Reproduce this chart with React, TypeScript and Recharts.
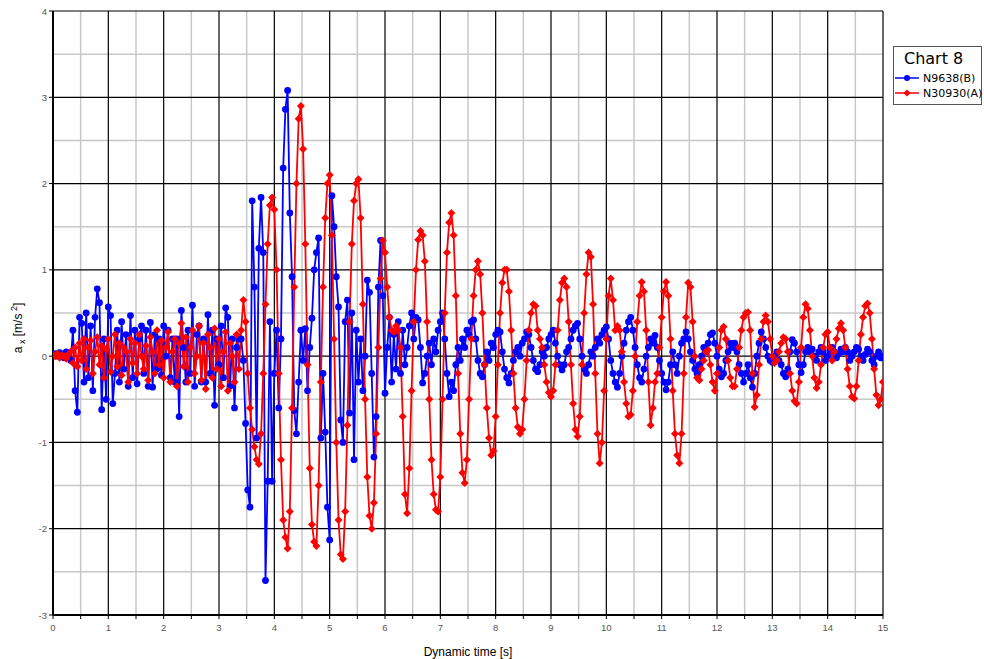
import React from 'react';
import { LineChart, Line, XAxis, YAxis, CartesianGrid } from 'recharts';

// sampling interval of the dynamic time series [s]
const DT = 0.04;

// N9638(B) accelerations
const blueEarly = [
  0.02, 0.03, 0.0, 0.04, 0.02, -0.02, 0.05, 0.0, -0.05, 0.3,
  -0.4, -0.65, 0.45, 0.38, -0.3, 0.5, -0.25, 0.35, -0.4, 0.45,
  0.78, 0.62, -0.62, 0.2, -0.5, 0.57, 0.47, -0.55, -0.2, 0.3,
  -0.3, 0.4, -0.15, 0.25, -0.35, 0.47, -0.25, 0.3, -0.32, 0.2,
  0.35, -0.2, 0.3, -0.35, 0.39, -0.36, 0.25, -0.15, 0.2, -0.22,
  0.35, 0.0, 0.3, -0.25, 0.2, -0.3, 0.2, -0.7, 0.53, 0.1,
  -0.3, 0.3, -0.2, 0.59, -0.35, 0.25, 0.35, -0.3, 0.2, -0.3,
  0.48, -0.2, 0.3, -0.57, 0.2, -0.1, 0.35, -0.25, 0.56, 0.45,
  -0.35, 0.2, -0.6, 0.1, 0.2,
];
const blueBurst = [
  0.2, -0.05, -0.78, -1.55, -1.75, 1.8, 0.8, -0.95, 1.25, 1.84,
  1.2, -2.6, -1.45, 0.4, -1.45, -0.2, 0.3, -0.6, 0.2, 2.18,
  2.86, 3.08, 1.66, 0.92, -0.63, -0.9, -0.3, 0.3, -0.05, 0.32,
  -0.4, 0.1, 0.44, 1.0, 1.2, 1.37, -0.95, -0.2, -0.88, -1.75,
  -2.13, 1.86, 1.5, 0.92, 0.57, -0.74, -1.0, 0.4, 0.65, -0.66,
  0.5, -1.2, 0.3, -0.3, 0.2, -0.4, 0.0, 0.88, 0.74, -0.2,
  -1.17, -0.7, 0.8, 1.34, 0.7, -0.43, 0.1, 0.45, -0.3, 0.25,
  -0.15, 0.4, -0.2, 0.3, -0.1,
];
const blueTail = [
  0.1, 0.35, 0.5, 0.2, 0.45, 0.42, 0.1, -0.31, -0.2, 0.0,
  0.15, -0.1, 0.2, 0.05, 0.3, 0.4, 0.5, 0.2, -0.2, -0.47,
  -0.3, -0.4, -0.1, 0.1, -0.05, 0.2, 0.1, 0.3, 0.25, 0.4,
  0.42, 0.2, -0.05, -0.2, -0.24, -0.1, 0.05, -0.05, 0.15, 0.1,
  0.25, 0.3, 0.28, 0.05, -0.15, -0.25, -0.31, -0.2, -0.05, 0.05,
  0.1, 0.0, 0.15, 0.2, 0.28, 0.25, 0.1, -0.05, -0.15, -0.18,
  -0.1, 0.05, 0.0, 0.1, 0.2, 0.25, 0.3, 0.15, 0.0, -0.1,
  -0.16, -0.1, 0.05, 0.1, 0.2, 0.3, 0.35, 0.38, 0.2, 0.0,
  -0.15, -0.2, -0.1, 0.05, 0.0, 0.1, 0.2, 0.15, 0.25, 0.3,
  0.34, 0.2, -0.05, -0.2, -0.3, -0.36, -0.2, 0.0, 0.15, 0.3,
  0.4, 0.45, 0.3, 0.1, -0.1, -0.25, -0.3, -0.15, 0.0, 0.1,
  0.2, 0.15, 0.24, 0.1, -0.05, -0.2, -0.3, -0.39, -0.3, -0.1,
  0.05, -0.1, -0.2, 0.0, 0.15, 0.2, 0.28, 0.2, 0.05, -0.05,
  -0.15, -0.2, -0.1, 0.0, 0.1, 0.05, 0.15, 0.25, 0.27, 0.15,
  0.0, -0.15, -0.24, -0.2, -0.05, 0.05, 0.15, 0.1, 0.15, 0.05,
  -0.1, -0.2, -0.3, -0.2, -0.1, -0.25, -0.36, -0.2, 0.0, 0.15,
  0.28, 0.2, 0.1, 0.0, -0.05, -0.07, 0.0, 0.05, -0.05, -0.1,
  -0.2, -0.24, -0.15, 0.05, 0.19, 0.15, 0.05, -0.1, -0.19, -0.1,
  0.05, 0.1, 0.05, 0.08, 0.0, -0.05, 0.05, 0.1, 0.05, -0.05,
  0.0, 0.08, 0.1, 0.05, -0.02, 0.03, 0.08, 0.05, 0.1, 0.05,
  -0.05, 0.0, 0.05, 0.1, 0.08, 0.0, -0.05, 0.02, 0.08, 0.05,
  -0.05, -0.1, 0.0, 0.05, -0.02, 0.0,
];

// N30930(A) accelerations
const redEarly = [
  0.02, 0.0, 0.03, -0.02, 0.01, 0.0, -0.03, 0.02, 0.05, -0.08,
  0.1, -0.12, 0.15, -0.05, 0.2, -0.15, 0.1, 0.18, -0.2, 0.05,
  0.22, -0.1, 0.12, -0.25, 0.08, 0.2, -0.18, 0.0, 0.25, -0.12,
  0.15, -0.22, 0.1, 0.05, -0.3, 0.2, -0.08, 0.15, -0.2, 0.25,
  0.0, -0.15, 0.12, -0.28, 0.22, 0.05, -0.2, 0.3, -0.1, 0.18,
  -0.25, 0.1, 0.28, -0.3, 0.05, 0.2, -0.35, 0.15, 0.38, -0.12,
  0.22, -0.3, 0.1, 0.3, -0.2, 0.0, 0.35, -0.28, 0.15, -0.38,
  0.25, 0.1, -0.25, 0.32, -0.15, 0.2, -0.35, 0.05, 0.28, -0.4,
  0.15, 0.0, -0.3, 0.25, -0.15,
];
const redMain = [
  0.3, 0.65, 0.4, -0.2, -0.6, -0.85, -1.05, -1.2, -1.25, -0.9,
  -0.2, 0.6, 1.3, 1.75, 1.84, 1.7, 1.0, -0.2, -1.2, -1.9,
  -2.1, -2.23, -1.8, -0.6, 0.8, 2.0, 2.75, 2.9, 2.4, 1.3,
  -0.1, -1.3, -1.95, -2.15, -2.2, -1.5, -0.3, 0.8, 1.6, 2.0,
  2.1, 1.4, 0.2, -1.0, -1.9, -2.3, -2.35, -1.8, -0.8, 0.4,
  1.3, 1.8, 2.0, 2.05, 1.6, 0.6, -0.5, -1.4, -1.85, -2.0,
  -1.7, -0.9, 0.1, 0.9, 1.34, 1.2, 0.8, 0.45, 0.3, 0.28,
  0.35, 0.3, 0.1, -0.7, -1.6, -1.82, -1.3, -0.4, 0.4, 1.0,
  1.35, 1.45, 1.4, 1.1, 0.4, -0.5, -1.2, -1.6, -1.78, -1.8,
  -1.4, -0.5, 0.5, 1.2, 1.55, 1.66, 1.4, 0.7, -0.2, -0.9,
  -1.35, -1.47, -1.2, -0.5, 0.2, 0.7, 1.0, 1.1, 0.95, 0.5,
  -0.1, -0.6, -0.95, -1.15, -1.1, -0.7, -0.1, 0.5, 0.85, 1.0,
  1.0, 0.75, 0.3, -0.2, -0.6, -0.82, -0.9, -0.85, -0.5, -0.05,
  0.3, 0.5, 0.6, 0.58, 0.3, 0.2, 0.1, -0.1, -0.3, -0.42,
  -0.47, -0.4, -0.1, 0.3, 0.65, 0.85, 0.9, 0.8, 0.4, -0.1,
  -0.55, -0.85, -0.93, -0.7, -0.1, 0.5, 0.95, 1.2, 1.15, 0.6,
  -0.2, -0.9, -1.24, -1.0, -0.4, 0.2, 0.7, 0.9, 0.65, 0.3,
  0.35, 0.3, 0.05, -0.3, -0.55, -0.7, -0.68, -0.4, 0.0, 0.4,
  0.7, 0.86, 0.75, 0.3, -0.3, -0.8, -0.6, -0.3, -0.2, 0.1,
  0.45, 0.75, 0.86, 0.7, 0.2, -0.4, -0.9, -1.15, -1.24, -0.9,
  -0.2, 0.45, 0.85, 0.8, 0.4, 0.0, -0.25, -0.28, -0.15, -0.05,
  0.05, 0.07, -0.1, -0.3, -0.4, -0.2, 0.1, 0.3, 0.34, 0.2,
  -0.05, -0.25, -0.35, -0.35, -0.15, 0.1, 0.3, 0.45, 0.5, 0.51,
  0.3, -0.2, -0.59, -0.45, -0.1, 0.2, 0.4, 0.47, 0.4, 0.2,
  0.0, -0.08, -0.05, 0.05, 0.15, 0.22, 0.2, 0.05, -0.2, -0.4,
  -0.52, -0.55, -0.3, 0.1, 0.45, 0.6, 0.55, 0.3, 0.0, -0.25,
  -0.37, -0.3, -0.1, 0.1, 0.25, 0.28, 0.1, -0.05, 0.05, 0.2,
  0.32, 0.38, 0.3, 0.1, -0.15, -0.35, -0.47, -0.49, -0.35, -0.05,
  0.25, 0.45, 0.58, 0.61, 0.5, 0.2, -0.15, -0.45, -0.57, -0.5,
  -0.3,
];

const xTicks = [0, 0.5, 1, 1.5, 2, 2.5, 3, 3.5, 4, 4.5, 5, 5.5, 6, 6.5, 7, 7.5, 8, 8.5, 9, 9.5, 10, 10.5, 11, 11.5, 12, 12.5, 13, 13.5, 14, 14.5, 15];
const xMajor = [0, 1, 2, 3, 4, 5, 6, 7, 8, 9, 10, 11, 12, 13, 14, 15];
const xMinor = [0.5, 1.5, 2.5, 3.5, 4.5, 5.5, 6.5, 7.5, 8.5, 9.5, 10.5, 11.5, 12.5, 13.5, 14.5];
const yTicks = [-3, -2, -1, 0, 1, 2, 3, 4];
const yMinor = [-2.5, -1.5, -0.5, 0.5, 1.5, 2.5, 3.5];

const seriesNames = ['N9638(B)', 'N30930(A)'];
const chartTitle = 'Chart 8';

const toPoints = (vals: number[]) => vals.map((v, i) => ({ t: Math.round(i * DT * 100) / 100, v }));
const blueData = toPoints([...blueEarly, ...blueBurst, ...blueTail]);
const redData = toPoints([...redEarly, ...redMain]);

const BLUE = '#0000ff';
const RED = '#ff0000';
const FONT = '"Liberation Sans", Arial, sans-serif';

const BlueDot = (p: any) => {
  if (p.cx == null || p.cy == null) return <g key={`b${p.index}`} />;
  return <circle key={`b${p.index}`} cx={p.cx} cy={p.cy} r={3.4} fill={BLUE} stroke="none" />;
};
const RedDot = (p: any) => {
  if (p.cx == null || p.cy == null) return <g key={`r${p.index}`} />;
  const s = 4;
  return (
    <polygon
      key={`r${p.index}`}
      points={`${p.cx},${p.cy - s} ${p.cx + s},${p.cy} ${p.cx},${p.cy + s} ${p.cx - s},${p.cy}`}
      fill={RED}
      stroke="none"
    />
  );
};

const XTick = (p: any) => {
  const v = p.payload.value;
  if (Math.abs(v - Math.round(v)) > 1e-6) return <g />;
  return (
    <text x={p.x} y={p.y} dy={7} textAnchor="middle" fontSize={9.5} fill="#555" fontFamily={FONT}>
      {v}
    </text>
  );
};
const YTick = (p: any) => (
  <text x={p.x} y={p.y} dy={3.5} textAnchor="end" fontSize={9.5} fill="#555" fontFamily={FONT}>
    {p.payload.value}
  </text>
);

const YLabel = (p: any) => {
  const vb = p.viewBox || { x: 0, y: 11, width: 53, height: 604 };
  const cx = vb.x + 22;
  const cy = vb.y + vb.height / 2 + 15;
  return (
    <text
      x={cx}
      y={cy}
      transform={`rotate(-90, ${cx}, ${cy})`}
      textAnchor="middle"
      fontSize={12}
      fill="#000"
      fontFamily={FONT}
    >
      a
      <tspan dy={3} fontSize={9}> x</tspan>
      <tspan dy={-3}> [m/s</tspan>
      <tspan dy={-5} fontSize={9}> 2</tspan>
      <tspan dy={5}>]</tspan>
    </text>
  );
};

const Legend = () => (
  <svg
    width={91}
    height={61}
    style={{ position: 'absolute', left: 892, top: 45 }}
  >
    <rect x={1.5} y={1.5} width={88} height={58} fill="#fff" stroke="#555" strokeWidth={1} />
    <text x={12} y={19} fontSize={16} fontFamily='"DejaVu Sans", sans-serif' fill="#000">
      {chartTitle}
    </text>
    <line x1={3} x2={27} y1={33} y2={33} stroke={BLUE} strokeWidth={1.5} />
    <circle cx={15} cy={33} r={3} fill={BLUE} />
    <text x={31} y={37} fontSize={11} fontFamily='"DejaVu Sans", sans-serif' fill="#000">
      {seriesNames[0]}
    </text>
    <line x1={3} x2={27} y1={48} y2={48} stroke={RED} strokeWidth={1.5} />
    <polygon points="15,44.4 18.6,48 15,51.6 11.4,48" fill={RED} />
    <text x={31} y={52} fontSize={11} fontFamily='"DejaVu Sans", sans-serif' fill="#000">
      {seriesNames[1]}
    </text>
  </svg>
);

export default function App() {
  return (
    <div style={{ position: 'absolute', left: 0, top: 0, width: 984, height: 659, background: '#fff' }}>
      <LineChart width={984} height={659} margin={{ top: 11, right: 101, bottom: 0, left: 0 }}>
        <CartesianGrid
          horizontalValues={yMinor}
          verticalValues={xMinor}
          stroke="#c8c8c8"
          strokeWidth={1.5}
          strokeDasharray=""
        />
        <CartesianGrid
          horizontalValues={yTicks}
          verticalValues={xMajor}
          stroke="#000"
          strokeWidth={1.2}
          strokeDasharray=""
        />
        <XAxis
          dataKey="t"
          type="number"
          domain={[0, 15]}
          ticks={xTicks}
          interval={0}
          allowDataOverflow
          height={44}
          tickSize={4}
          tickMargin={5}
          tick={<XTick />}
          axisLine={{ stroke: '#000', strokeWidth: 2 }}
          tickLine={{ stroke: '#000', strokeWidth: 1 }}
          label={{ value: 'Dynamic time [s]', position: 'insideBottom', offset: 3, fontSize: 12, fill: '#000', fontFamily: FONT }}
        />
        <YAxis
          type="number"
          domain={[-3, 4]}
          ticks={yTicks}
          interval={0}
          allowDataOverflow
          width={53}
          tickSize={4}
          tickMargin={2}
          tick={<YTick />}
          axisLine={{ stroke: '#000', strokeWidth: 2 }}
          tickLine={{ stroke: '#000', strokeWidth: 1 }}
          label={<YLabel />}
        />
        <Line
          data={blueData}
          dataKey="v"
          name={seriesNames[0]}
          stroke={BLUE}
          strokeWidth={1.8}
          dot={BlueDot}
          activeDot={false}
          isAnimationActive={false}
          type="linear"
        />
        <Line
          data={redData}
          dataKey="v"
          name={seriesNames[1]}
          stroke={RED}
          strokeWidth={1.8}
          dot={RedDot}
          activeDot={false}
          isAnimationActive={false}
          type="linear"
        />
      </LineChart>
      <Legend />
    </div>
  );
}
